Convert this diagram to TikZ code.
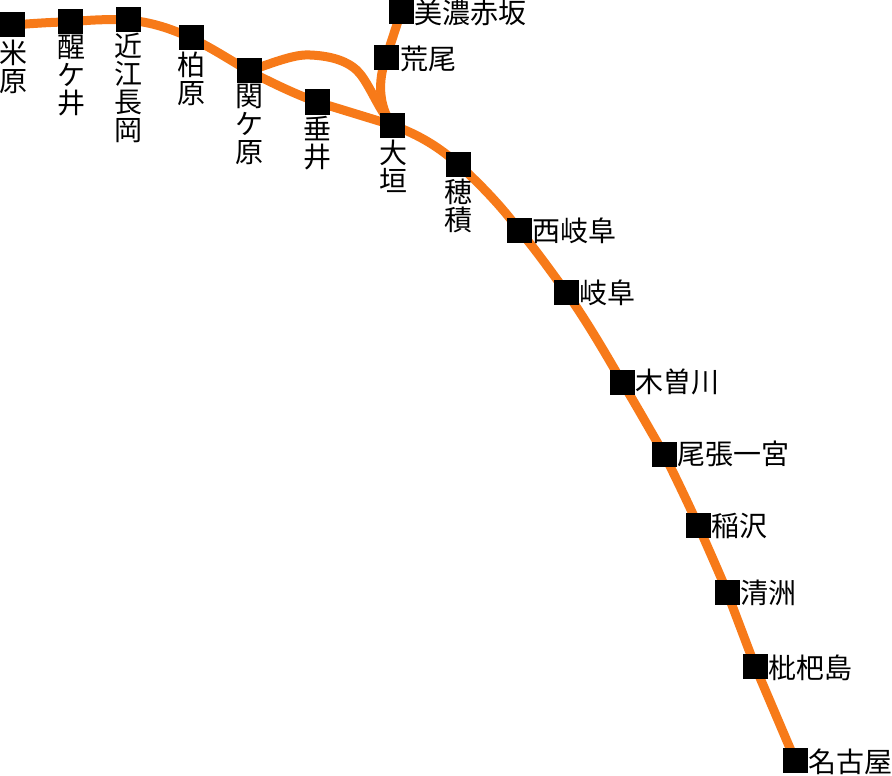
\documentclass[tikz,border=0pt]{standalone}
\usepackage{fontspec}
\setmainfont{Noto Sans CJK JP}
\usetikzlibrary{backgrounds}
\definecolor{lineorange}{HTML}{F77A19}
\tikzset{
  x=1pt,y=-1pt,
  stationbox/.style={fill=black,draw=none,minimum size=25pt,inner sep=0pt,outer sep=0pt},
  hlabel/.style={anchor=west,inner sep=0pt,outer sep=0pt,font=\fontsize{28}{28}\selectfont},
  vlabel/.style={anchor=north,inner sep=0pt,outer sep=0pt,align=center,font=\fontsize{28}{28}\selectfont},
  track/.style={draw=lineorange,line width=9pt,line join=round}
}
\begin{document}
\begin{tikzpicture}
\useasboundingbox (0,0) rectangle (892,776);
\foreach \n/\px/\py in {mb/12/25,sg/70/22,oa/128/20,kb/191/38,sk/249/71,tr/317/102,og/392/125,hz/458/164,ng/519/230,gf/566/292,kg/622/382,oi/664/454,iz/698/525,ks/727/592,bj/755/666,ny/795/760,ar/386/58,ms/401/12}
  \node[stationbox] (\n) at (\px,\py) {};
\node[vlabel] (lmb) at (13,40) {米\\原};
\node[vlabel] (lsg) at (71,35) {醒\\ケ\\井};
\node[vlabel] (loa) at (128,33) {近\\江\\長\\岡};
\node[vlabel] (lkb) at (191,52) {柏\\原};
\node[vlabel] (lsk) at (249,84) {関\\ケ\\原};
\node[vlabel] (ltr) at (317,116) {垂\\井};
\node[vlabel] (log) at (393,140) {大\\垣};
\node[vlabel] (lhz) at (458,179) {穂\\積};
\node[hlabel] (lms) at (414,13) {美濃赤坂};
\node[hlabel] (lar) at (400,59) {荒尾};
\node[hlabel] (lng) at (532,231) {西岐阜};
\node[hlabel] (lgf) at (579,293) {岐阜};
\node[hlabel] (lkg) at (635,382) {木曽川};
\node[hlabel] (loi) at (677,454) {尾張一宮};
\node[hlabel] (liz) at (711,526) {稲沢};
\node[hlabel] (lks) at (740,593) {清洲};
\node[hlabel] (lbj) at (768,668) {枇杷島};
\node[hlabel] (lny) at (808,762) {名古屋};
\begin{scope}[on background layer]
\draw[track] (mb.center) .. controls (40,23) and (55,22) .. (sg.center)
  .. controls (88,20) and (108,19) .. (oa.center)
  .. controls (150,22) and (170,28) .. (kb.center)
  .. controls (212,48) and (230,60) .. (sk.center)
  .. controls (272,83) and (295,94) .. (tr.center)
  -- (og.center)
  .. controls (420,135) and (440,148) .. (hz.center)
  .. controls (482,186) and (502,207) .. (ng.center)
  .. controls (535,249) and (550,270) .. (gf.center)
  .. controls (586,320) and (604,351) .. (kg.center)
  .. controls (636,405) and (650,430) .. (oi.center)
  .. controls (676,478) and (687,501) .. (iz.center)
  .. controls (708,548) and (718,570) .. (ks.center)
  -- (bj.center) -- (ny.center);
\draw[track] (sk.center) .. controls (275,62) and (295,54) .. (310,55)
  .. controls (335,56) and (352,63) .. (361,75)
  .. controls (372,90) and (378,108) .. (og.center);
\draw[track] (og.center) .. controls (378,105) and (378,80) .. (ar.center)
  -- (ms.center);
\end{scope}
\end{tikzpicture}
\end{document}
